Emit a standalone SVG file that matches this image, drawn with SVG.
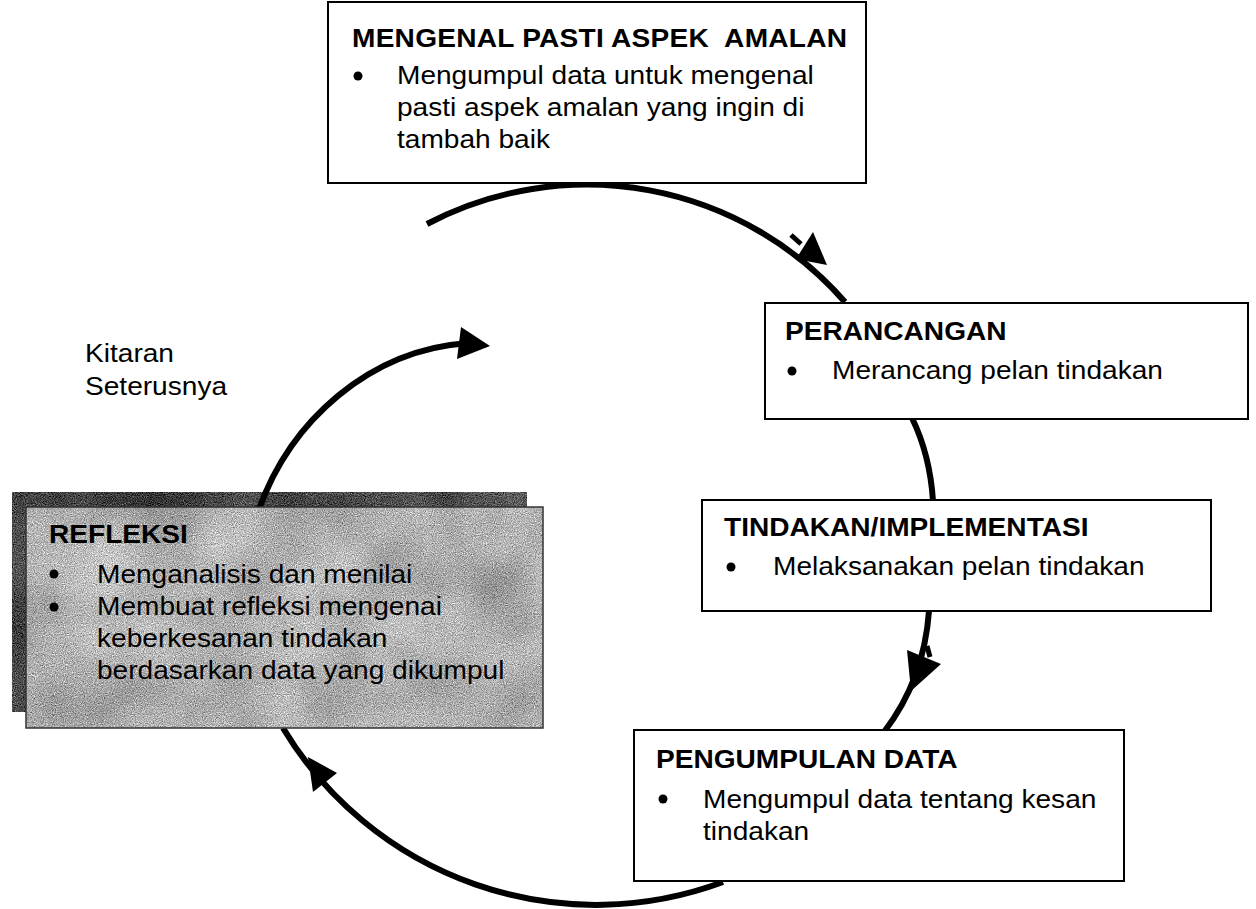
<svg xmlns="http://www.w3.org/2000/svg" width="1256" height="909" viewBox="0 0 1256 909">
<style>
  text { font-family: "Liberation Sans", Arial, sans-serif; font-size: 26.5px; fill: #000; white-space: pre; }
  .t { font-weight: bold; }
  .box { fill: #fff; stroke: #000; stroke-width: 2; }
  .conn { fill: none; stroke: #000; stroke-width: 6; }
  .head { fill: #000; stroke: none; }
  .dot { fill: #000; }
</style>
<defs>
  <filter id="grain" x="0" y="0" width="1" height="1" color-interpolation-filters="sRGB">
    <feTurbulence type="fractalNoise" baseFrequency="0.9" numOctaves="2" seed="4" result="fine"/>
    <feTurbulence type="fractalNoise" baseFrequency="0.015" numOctaves="2" seed="9" result="coarse"/>
    <feColorMatrix in="fine" type="matrix" values="0.33 0.33 0.33 0 0  0.33 0.33 0.33 0 0  0.33 0.33 0.33 0 0  0 0 0 0 1" result="fg"/>
    <feColorMatrix in="coarse" type="matrix" values="0.33 0.33 0.33 0 0  0.33 0.33 0.33 0 0  0.33 0.33 0.33 0 0  0 0 0 0 1" result="cg"/>
    <feComposite in="SourceGraphic" in2="fg" operator="arithmetic" k1="0" k2="1" k3="1.3" k4="-0.65" result="a"/>
    <feComposite in="a" in2="cg" operator="arithmetic" k1="0" k2="1" k3="0.45" k4="-0.225" result="b"/>
    <feComposite in="b" in2="SourceAlpha" operator="in"/>
  </filter>
</defs>
<rect width="1256" height="909" fill="#fff"/>

<g id="refleksi-shadow">
  <rect x="12" y="492" width="515" height="220" fill="#4e4e4e" filter="url(#grain)"/>
</g>

<g id="connectors">
  <path class="conn" d="M 427 224 A 343 343 0 0 1 845 302"/>
  <polygon class="head" points="813,232 827,265 796,259"/>
  <line x1="791" y1="235" x2="801" y2="244" stroke="#000" stroke-width="5"/>
  <path class="conn" d="M 912 418 Q 930 455 933 501"/>
  <path class="conn" d="M 929 611 Q 924 680 884 732"/>
  <polygon class="head" points="907,650 941,664 911,691"/>
  <line x1="927" y1="646" x2="930" y2="657" stroke="#000" stroke-width="5"/>
  <path class="conn" d="M 723 882 A 365 365 0 0 1 283 728"/>
  <polygon class="head" points="308,757 337,773 313,792"/>
  <path class="conn" d="M 258 512 C 290 420 370 350 468 343"/>
  <polygon class="head" points="490,346 461,327 457,359"/>
</g>

<g id="mengenal">
  <rect class="box" x="328" y="2" width="538" height="181"/>
  <text class="t" transform="translate(352 47) scale(1.06 1)" textLength="467" lengthAdjust="spacing">MENGENAL PASTI ASPEK  AMALAN</text>
  <circle class="dot" cx="358" cy="76" r="4.5"/>
  <text transform="translate(397 84) scale(1.06 1)">Mengumpul data untuk mengenal</text>
  <text transform="translate(397 116) scale(1.06 1)">pasti aspek amalan yang ingin di</text>
  <text transform="translate(397 148) scale(1.06 1)">tambah baik</text>
</g>

<g id="perancangan">
  <rect class="box" x="765" y="303" width="483" height="116"/>
  <text class="t" transform="translate(785 340) scale(1.06 1)">PERANCANGAN</text>
  <circle class="dot" cx="792" cy="371" r="4.5"/>
  <text transform="translate(832 379) scale(1.06 1)">Merancang pelan tindakan</text>
</g>

<g id="tindakan">
  <rect class="box" x="702" y="500" width="509" height="111"/>
  <text class="t" transform="translate(724 536) scale(1.06 1)">TINDAKAN/IMPLEMENTASI</text>
  <circle class="dot" cx="731" cy="567" r="4.5"/>
  <text transform="translate(773 575) scale(1.06 1)">Melaksanakan pelan tindakan</text>
</g>

<g id="pengumpulan">
  <rect class="box" x="634" y="730" width="490" height="151"/>
  <text class="t" transform="translate(656 768) scale(1.06 1)">PENGUMPULAN DATA</text>
  <circle class="dot" cx="663" cy="799" r="4.5"/>
  <text transform="translate(703 808) scale(1.06 1)">Mengumpul data tentang kesan</text>
  <text transform="translate(703 840) scale(1.06 1)">tindakan</text>
</g>

<g id="refleksi">
  <rect x="26" y="507" width="517" height="221" fill="#b2b2b2" filter="url(#grain)"/>
  <rect x="26" y="507" width="517" height="221" fill="none" stroke="#333" stroke-width="1.5"/>
  <text class="t" transform="translate(49 543) scale(1.06 1)">REFLEKSI</text>
  <circle class="dot" cx="54" cy="574" r="4.5"/>
  <text transform="translate(97 583) scale(1.06 1)">Menganalisis dan menilai</text>
  <circle class="dot" cx="54" cy="607" r="4.5"/>
  <text transform="translate(97 615) scale(1.06 1)">Membuat refleksi mengenai</text>
  <text transform="translate(97 647) scale(1.06 1)">keberkesanan tindakan</text>
  <text transform="translate(97 679) scale(1.06 1)">berdasarkan data yang dikumpul</text>
</g>

<g id="kitaran">
  <text transform="translate(85 362) scale(1.06 1)">Kitaran</text>
  <text transform="translate(85 395) scale(1.06 1)">Seterusnya</text>
</g>
</svg>
